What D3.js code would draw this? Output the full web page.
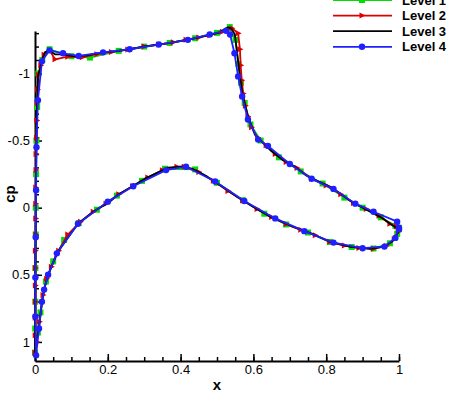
<!DOCTYPE html>
<html>
<head>
<meta charset="utf-8">
<script src="https://cdn.jsdelivr.net/npm/d3@7"></script>
<style>
  body { margin: 0; background: #fff; }
  svg { display: block; font-family: "Liberation Sans", Arial, sans-serif; }
</style>
</head>
<body>
<svg id="chart" width="450" height="404"></svg>
<script>
// x ticks / y ticks
var xTicks = [0, 0.2, 0.4, 0.6, 0.8, 1];
var xTickLabels = ["0", "0.2", "0.4", "0.6", "0.8", "1"];
var yTicks = [-1, -0.5, 0, 0.5, 1];
var yTickLabels = ["-1", "-0.5", "0", "0.5", "1"];
var levelNames = ["Level 1", "Level 2", "Level 3", "Level 4"];

// [x, cp] (upper surface TE->LE, then lower LE->TE)
var level1 = [[1.000,0.160],[0.990,0.135],[0.950,0.072],[0.900,0.000],[0.850,-0.075],[0.790,-0.180],[0.730,-0.270],[0.670,-0.375],[0.620,-0.500],[0.592,-0.620],[0.576,-0.780],[0.566,-0.930],[0.559,-1.070],[0.551,-1.250],[0.535,-1.345],[0.500,-1.302],[0.440,-1.262],[0.370,-1.227],[0.300,-1.200],[0.230,-1.168],[0.151,-1.118],[0.100,-1.128],[0.040,-1.180],[0.020,-1.100],[0.009,-1.000],[0.006,-0.750],[0.004,-0.500],[0.003,-0.250],[0.002,0.000],[0.002,0.200],[0.001,0.450],[0.001,0.700],[0.0005,0.900],[0.000,1.080],
  [0.008,0.930],[0.015,0.780],[0.030,0.550],[0.050,0.400],[0.080,0.240],[0.120,0.115],[0.170,0.015],[0.225,-0.090],[0.294,-0.200],[0.357,-0.290],[0.440,-0.285],[0.500,-0.185],[0.572,-0.055],[0.630,0.045],[0.690,0.125],[0.750,0.185],[0.810,0.255],[0.870,0.293],[0.930,0.304],[0.975,0.265],[0.995,0.195],[1.000,0.150]];

var level2 = [[1.000,0.160],[0.993,0.140],[0.975,0.120],[0.945,0.060],[0.910,0.010],[0.875,-0.035],[0.840,-0.100],[0.800,-0.165],[0.760,-0.215],[0.720,-0.295],[0.690,-0.340],[0.660,-0.400],[0.635,-0.465],[0.612,-0.520],[0.595,-0.600],[0.585,-0.680],[0.578,-0.760],[0.572,-0.850],[0.568,-0.950],[0.565,-1.060],[0.563,-1.180],[0.558,-1.300],[0.541,-1.336],[0.515,-1.310],[0.480,-1.285],[0.450,-1.268],[0.415,-1.250],[0.380,-1.232],[0.340,-1.215],[0.300,-1.200],[0.255,-1.178],[0.210,-1.160],[0.170,-1.143],[0.130,-1.120],[0.090,-1.125],[0.055,-1.105],[0.040,-1.172],[0.025,-1.140],[0.016,-1.060],[0.010,-0.990],[0.007,-0.880],[0.006,-0.780],[0.005,-0.650],[0.004,-0.520],[0.003,-0.400],[0.003,-0.280],[0.002,-0.150],[0.002,-0.030],[0.002,0.080],[0.002,0.200],[0.001,0.320],[0.001,0.450],[0.001,0.580],[0.001,0.700],[0.0005,0.820],[0.0005,0.950],[0.000,1.080],
  [0.005,1.000],[0.012,0.850],[0.022,0.650],[0.032,0.530],[0.045,0.440],[0.065,0.320],[0.090,0.200],[0.125,0.105],[0.160,0.030],[0.195,-0.030],[0.230,-0.100],[0.268,-0.160],[0.310,-0.225],[0.350,-0.278],[0.390,-0.305],[0.410,-0.305],[0.450,-0.265],[0.490,-0.200],[0.530,-0.125],[0.570,-0.055],[0.610,0.010],[0.650,0.070],[0.690,0.122],[0.730,0.165],[0.770,0.205],[0.810,0.254],[0.850,0.282],[0.890,0.300],[0.930,0.305],[0.965,0.285],[0.987,0.235],[0.998,0.180],[1.000,0.150]];

var level3 = [[1.000,0.160],[0.978,0.125],[0.956,0.080],[0.915,0.020],[0.874,-0.037],[0.816,-0.149],[0.755,-0.224],[0.742,-0.246],[0.714,-0.306],[0.679,-0.358],[0.650,-0.420],[0.626,-0.485],[0.604,-0.545],[0.585,-0.679],[0.571,-0.828],[0.563,-0.978],[0.555,-1.157],[0.549,-1.291],[0.540,-1.333],[0.530,-1.343],[0.508,-1.306],[0.462,-1.276],[0.426,-1.254],[0.363,-1.224],[0.302,-1.201],[0.260,-1.180],[0.220,-1.165],[0.187,-1.157],[0.143,-1.134],[0.110,-1.127],[0.074,-1.142],[0.055,-1.142],[0.038,-1.172],[0.027,-1.157],[0.019,-1.090],[0.008,-0.978],[0.005,-0.679],[0.003,-0.300],[0.002,0.100],[0.001,0.500],[0.0005,0.900],[0.000,1.100],
  [0.004,1.000],[0.011,0.900],[0.019,0.700],[0.025,0.610],[0.036,0.500],[0.060,0.340],[0.118,0.120],[0.160,0.030],[0.206,-0.045],[0.228,-0.097],[0.261,-0.149],[0.302,-0.216],[0.343,-0.269],[0.365,-0.299],[0.404,-0.306],[0.431,-0.291],[0.473,-0.231],[0.514,-0.157],[0.555,-0.082],[0.599,-0.007],[0.646,0.067],[0.709,0.142],[0.755,0.187],[0.810,0.254],[0.865,0.291],[0.920,0.306],[0.956,0.291],[0.981,0.254],[0.997,0.187],[1.000,0.150]];

var level4 = [[1.000,0.160],[0.995,0.104],[0.930,0.030],[0.880,-0.030],[0.820,-0.140],[0.760,-0.215],[0.700,-0.325],[0.640,-0.460],[0.613,-0.507],[0.585,-0.657],[0.569,-0.828],[0.558,-0.978],[0.548,-1.150],[0.536,-1.290],[0.525,-1.318],[0.480,-1.290],[0.420,-1.250],[0.340,-1.215],[0.260,-1.180],[0.187,-1.157],[0.120,-1.130],[0.077,-1.150],[0.040,-1.172],[0.019,-1.090],[0.008,-0.800],[0.004,-0.450],[0.003,-0.130],[0.002,0.220],[0.001,0.520],[0.001,0.810],[0.003,1.100],
  [0.011,0.900],[0.019,0.700],[0.025,0.610],[0.036,0.500],[0.060,0.340],[0.118,0.120],[0.200,-0.045],[0.270,-0.160],[0.360,-0.280],[0.415,-0.305],[0.495,-0.195],[0.575,-0.050],[0.660,0.080],[0.740,0.175],[0.820,0.260],[0.900,0.302],[0.960,0.290],[0.990,0.225],[1.000,0.150]];

var series = [
  {name: levelNames[0], data: level1, color: "#00dd00", marker: "square"},
  {name: levelNames[1], data: level2, color: "#dd0000", marker: "triangle"},
  {name: levelNames[2], data: level3, color: "#000000", marker: null},
  {name: levelNames[3], data: level4, color: "#2020ff", marker: "circle"}
];

var svg = d3.select("#chart");

var x = d3.scaleLinear().domain([0, 1]).range([35, 399]);
var y = d3.scaleLinear().domain([-1.316, 1.142]).range([31, 361]);

var line = d3.line()
  .x(function(d) { return x(d[0]); })
  .y(function(d) { return y(d[1]); });

/* minor ticks */
svg.append("g")
  .attr("transform", "translate(0,361)")
  .call(d3.axisBottom(x).tickValues(d3.range(0, 1.001, 0.05)).tickSize(-4).tickSizeOuter(0).tickFormat(""))
  .call(function(g) { g.select(".domain").remove(); });
svg.append("g")
  .attr("transform", "translate(35,0)")
  .call(d3.axisLeft(y).tickValues(d3.range(-13, 12).map(function(v) { return v / 10; })).tickSize(-4).tickSizeOuter(0).tickFormat(""))
  .call(function(g) { g.select(".domain").remove(); });

/* major axes */
var xAxis = svg.append("g")
  .attr("transform", "translate(0,361)")
  .call(d3.axisBottom(x).tickValues(xTicks).tickSize(-7).tickSizeOuter(0).tickPadding(4)
    .tickFormat(function(d, i) { return xTickLabels[i]; }));
var yAxis = svg.append("g")
  .attr("transform", "translate(35,0)")
  .call(d3.axisLeft(y).tickValues(yTicks).tickSize(-7).tickSizeOuter(0).tickPadding(5)
    .tickFormat(function(d, i) { return yTickLabels[i]; }));

svg.selectAll(".tick line").attr("stroke", "#000").attr("stroke-width", 1.5);
svg.selectAll(".domain").attr("stroke", "#000").attr("stroke-width", 2);
svg.selectAll(".tick text").attr("font-size", 13).attr("fill", "#000")
  .attr("font-family", "Liberation Sans, Arial, sans-serif");

/* axis titles */
svg.append("text")
  .attr("x", 217).attr("y", 390)
  .attr("text-anchor", "middle")
  .attr("font-size", 15).attr("font-weight", "bold")
  .text("x");
svg.append("text")
  .attr("transform", "translate(15,194) rotate(-90)")
  .attr("text-anchor", "middle")
  .attr("font-size", 15).attr("font-weight", "bold")
  .text("cp");

function drawMarker(sel, type, color) {
  if (type == "square") {
    sel.append("rect").attr("x", -3).attr("y", -3).attr("width", 6).attr("height", 6)
      .attr("fill", color);
  } else if (type == "triangle") {
    sel.append("path").attr("d", "M3.5,0L-2.5,-3L-2.5,3Z").attr("fill", color);
  } else if (type == "circle") {
    sel.append("circle").attr("r", 3.2).attr("fill", color);
  }
}

/* curves */
series.forEach(function(s) {
  svg.append("path")
    .datum(s.data)
    .attr("d", line)
    .attr("fill", "none")
    .attr("stroke", s.color)
    .attr("stroke-width", 1.8)
    .attr("stroke-linejoin", "round");
  if (s.marker) {
    svg.append("g").selectAll("g")
      .data(s.data)
      .enter().append("g")
      .attr("transform", function(d) { return "translate(" + x(d[0]) + "," + y(d[1]) + ")"; })
      .each(function() { drawMarker(d3.select(this), s.marker, s.color); });
  }
});

/* legend (top entry is cut by the page edge, as in the original) */
var legend = svg.append("g");
series.forEach(function(s, i) {
  var ly = i * 15.6;
  legend.append("line")
    .attr("x1", 333).attr("x2", 392).attr("y1", ly).attr("y2", ly)
    .attr("stroke", s.color).attr("stroke-width", 1.8);
  if (s.marker) {
    var m = legend.append("g").attr("transform", "translate(362," + ly + ")");
    drawMarker(m, s.marker, s.color);
  }
  legend.append("text")
    .attr("x", 402).attr("y", ly)
    .attr("dy", "0.36em")
    .attr("font-size", 13).attr("font-weight", "bold")
    .text(s.name);
});
</script>
</body>
</html>
